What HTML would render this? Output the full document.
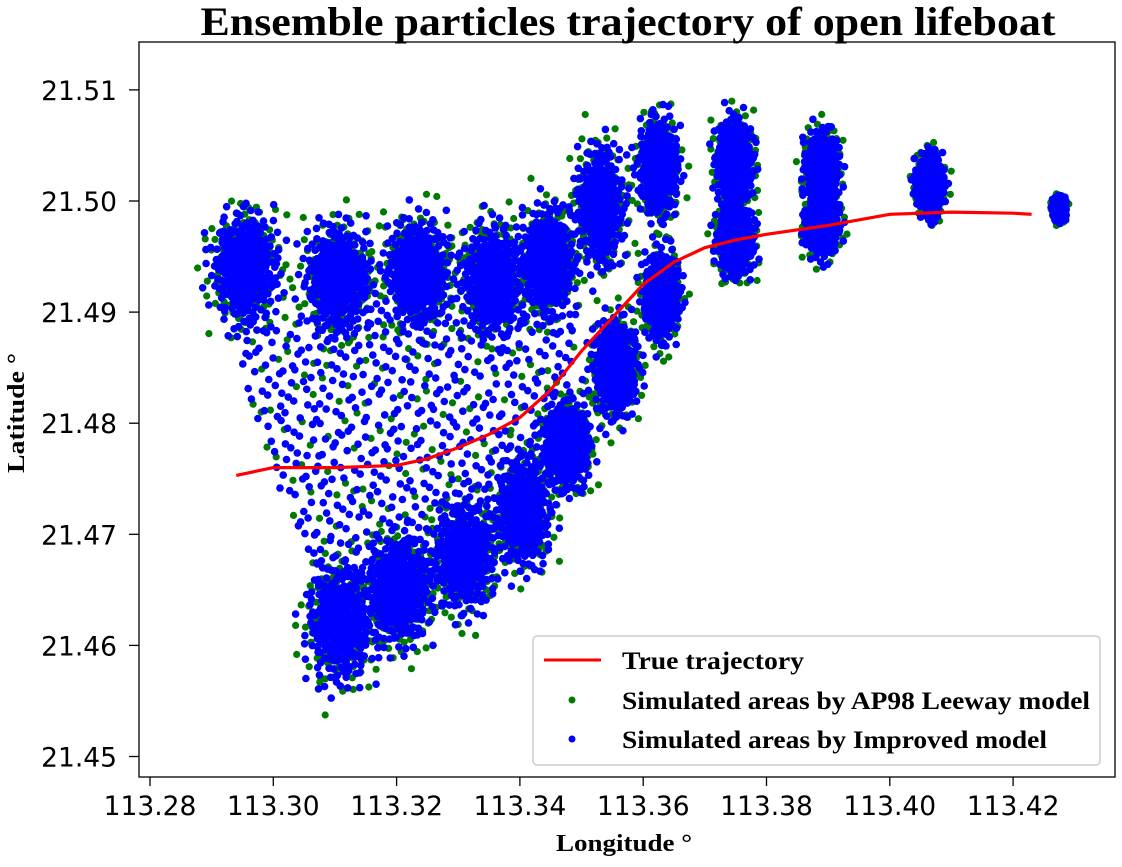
<!DOCTYPE html>
<html><head><meta charset="utf-8"><style>
body{margin:0;background:#fff;width:1122px;height:862px;overflow:hidden}
svg text{font-family:"DejaVu Sans",sans-serif}
.serif{font-family:"Liberation Serif",serif;font-weight:bold}
</style></head><body>
<svg id="chart" width="1122" height="862">
<text class="serif" x="628" y="35" text-anchor="middle" font-size="40" textLength="855" lengthAdjust="spacingAndGlyphs">Ensemble particles trajectory of open lifeboat</text>
<g id="plot"></g>
<rect x="139" y="42" width="976" height="735" fill="none" stroke="#000" stroke-width="1.3"/>
<g id="xticks"></g>
<g id="yticks"></g>
<text class="serif" x="624" y="851" text-anchor="middle" font-size="24" textLength="136" lengthAdjust="spacingAndGlyphs">Longitude °</text>
<text class="serif" transform="translate(24,413) rotate(-90)" text-anchor="middle" font-size="24" textLength="120" lengthAdjust="spacingAndGlyphs">Latitude °</text>
<g>
<rect x="533" y="636" width="567" height="129" rx="4" fill="#fff" fill-opacity="0.9" stroke="#ccc" stroke-width="1.5"/>
<line x1="544" y1="660" x2="601" y2="660" stroke="#f00" stroke-width="3"/>
<text class="serif" x="622" y="669" font-size="25" textLength="182" lengthAdjust="spacingAndGlyphs">True trajectory</text>
<circle cx="572" cy="700" r="3.5" fill="#007a00"/>
<text class="serif" x="622" y="709" font-size="25" textLength="468" lengthAdjust="spacingAndGlyphs">Simulated areas by AP98 Leeway model</text>
<circle cx="572" cy="739" r="3.5" fill="#0000ff"/>
<text class="serif" x="622" y="748" font-size="25" textLength="425" lengthAdjust="spacingAndGlyphs">Simulated areas by Improved model</text>
</g>
</svg>
<script>
const xTicks=[113.28,113.30,113.32,113.34,113.36,113.38,113.40,113.42];
const yTicks=[21.45,21.46,21.47,21.48,21.49,21.50,21.51];
const trueLon=[113.294,113.30,113.31,113.32,113.325,113.33,113.335,113.34,113.345,113.35,113.355,113.36,113.365,113.37,113.375,113.38,113.39,113.40,113.41,113.42,113.423];
const trueLat=[21.4753,21.4760,21.4760,21.4762,21.4768,21.4778,21.4790,21.4805,21.4830,21.4865,21.4895,21.4925,21.4945,21.4958,21.4965,21.4970,21.4978,21.4988,21.4990,21.4989,21.4988];
const clusterLon=[113.2955,113.3105,113.3235,113.3355,113.3445,113.3530,113.3625,113.3630,113.3748,113.3750,113.3890,113.3890,113.4065,113.4275,113.3110,113.3205,113.3310,113.3405,113.3475,113.3555];
const clusterLat=[21.4940,21.4930,21.4935,21.4930,21.4945,21.4995,21.5030,21.4915,21.5035,21.4965,21.5030,21.4980,21.5015,21.4993,21.4620,21.4650,21.4680,21.4720,21.4780,21.4850];
const clusterSdLon=[0.0022,0.0022,0.0022,0.0020,0.0018,0.0016,0.0013,0.0012,0.0012,0.0012,0.0011,0.0011,0.0009,0.0004,0.0022,0.0021,0.0020,0.0018,0.0016,0.0015];
const clusterSdLat=[0.0020,0.0020,0.0020,0.0020,0.0020,0.0022,0.0018,0.0016,0.0016,0.0013,0.0013,0.0012,0.0011,0.0004,0.0022,0.0020,0.0020,0.0020,0.0016,0.0018];
const fillPolyLon=[113.293,113.350,113.346,113.312,113.299];
const fillPolyLat=[21.4890,21.4900,21.4730,21.4600,21.4760];

const NS='http://www.w3.org/2000/svg';
const xS=lon=>150+(lon-113.28)*6165;
const yS=lat=>201+(21.50-lat)*11110;
function mk(tag,attrs,parent){const e=document.createElementNS(NS,tag);for(const k in attrs)e.setAttribute(k,attrs[k]);parent.appendChild(e);return e;}
function halton(i,b){let f=1,r=0;while(i>0){f/=b;r+=f*(i%b);i=Math.floor(i/b);}return r;}
const plot=document.getElementById('plot');
const gG=mk('g',{},plot);
const gB=mk('g',{},plot);
function inPoly(x,y){let c=false;for(let i=0,j=fillPolyLon.length-1;i<fillPolyLon.length;j=i++){const xi=fillPolyLon[i],yi=fillPolyLat[i],xj=fillPolyLon[j],yj=fillPolyLat[j];if(((yi>y)!=(yj>y))&&(x<(xj-xi)*(y-yi)/(yj-yi)+xi))c=!c;}return c;}
function cloud(g,color,scale,n,off,fill,rad){
 for(let c=0;c<clusterLon.length;c++){
  for(let i=1;i<=n;i++){
   const u1=halton(i+off+c*97,2),u2=halton(i+off+c*97,3);
   let r=Math.sqrt(-2*Math.log(1-u1*0.99));
   const a=2*Math.PI*u2;
   const lon=clusterLon[c]+r*Math.cos(a)*clusterSdLon[c]*scale;
   const lat=clusterLat[c]+r*Math.sin(a)*clusterSdLat[c]*scale;
   const p=mk('circle',{cx:xS(lon).toFixed(1),cy:yS(lat).toFixed(1),r:rad,fill:color},g);
   
   
  }
 }
 for(let i=1;i<=fill;i++){
  const lon=113.292+halton(i+off,2)*0.06, lat=21.459+halton(i+off,3)*0.032;
  if(!inPoly(lon,lat))continue;
  const p=mk('circle',{cx:xS(lon).toFixed(1),cy:yS(lat).toFixed(1),r:rad,fill:color},g);
  
  
 }
}
cloud(gG,'#007a00',1.35,170,500,650,3.6);
cloud(gB,'#0000ff',1.2,320,0,900,3.8);
let d='';trueLon.forEach((v,i)=>{d+=(i?'L':'M')+xS(v).toFixed(1)+','+yS(trueLat[i]).toFixed(1);});
const ln=mk('path',{d:d,fill:'none',stroke:'#f00','stroke-width':3.2},plot);


const xt=document.getElementById('xticks'),yt=document.getElementById('yticks');
xTicks.forEach(v=>{const x=xS(v);mk('line',{x1:x,x2:x,y1:777,y2:786,stroke:'#000','stroke-width':1.3},xt);
 const t=mk('text',{x:x,y:815,'text-anchor':'middle','font-size':26.5},xt);t.textContent=v.toFixed(2);
 });
yTicks.forEach(v=>{const y=yS(v);mk('line',{x1:129,x2:139,y1:y,y2:y,stroke:'#000','stroke-width':1.3},yt);
 const t=mk('text',{x:117,y:y+10,'text-anchor':'end','font-size':26.5},yt);t.textContent=v.toFixed(2);
 });
</script>
</body></html>
